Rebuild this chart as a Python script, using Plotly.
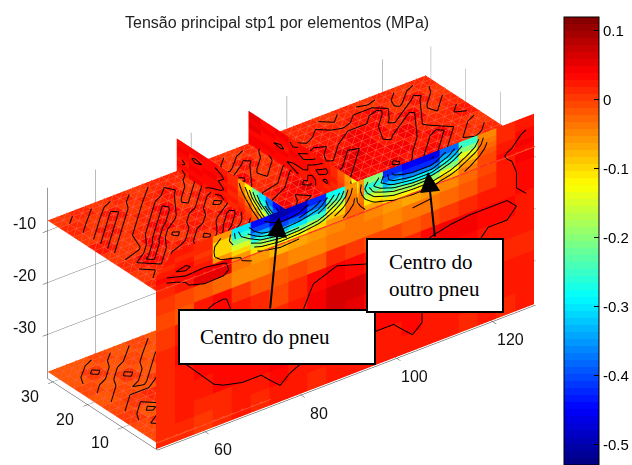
import numpy as np
import plotly.graph_objects as go

TITLE = "Tensão principal stp1 por elementos (MPa)"
CB_TICKS = [0.1, 0, -0.1, -0.2, -0.3, -0.4, -0.5]
CB_LABELS = ["0.1", "0", "-0.1", "-0.2", "-0.3", "-0.4", "-0.5"]
X_TICKS = [60, 80, 100, 120]
Y_TICKS = [10, 20, 30]
Z_TICKS = [-10, -20, -30]
CMIN, CMAX = -0.53, 0.12

X_RANGE = [50, 129]
Y_RANGE = [0, 31.5]
Z_RANGE = [-38.5, -1.7]

x_edges = np.linspace(50, 129, 21)
y_edges = [0, 4, 8, 12, 16, 20, 24, 28, 31.5]
z_edges = [-1.7, -3, -4, -5, -6, -7, -8, -10, -13, -16, -20, -24, -28, -32, -35, -38.5]
PLATE_TOP_Z = -8.0
PLATE_BOTTOM_Z = -37.2

# stress at y = 0 section, rows from top to bottom, in 0.01 MPa
wall_values = [
    [2, 2, 1, -6, -30, -44, -50, -48, -42, -28, -6, -20, -42, -45, -46, -38, -25, -5, 1, 2],
    [2, 1, 1, -10, -26, -40, -46, -44, -38, -24, -5, -26, -38, -42, -42, -33, -20, -4, 1, 2],
    [1, 2, 0, -10, -20, -34, -40, -38, -32, -18, -4, -22, -32, -36, -36, -27, -14, -3, 1, 3],
    [2, 3, 1, -10, -15, -26, -32, -30, -25, -13, -4, -16, -24, -28, -28, -20, -9, -2, 2, 3],
    [3, 2, 2, -6, -10, -18, -22, -21, -17, -9, -3, -11, -17, -19, -19, -13, -6, -1, 2, 4],
    [2, 3, 4, 4, -6, -11, -14, -13, -10, -6, -3, -7, -11, -12, -12, -8, -4, -1, 3, 3],
    [1, 2, 5, 5, -4, -6, -8, -7, -6, -5, -4, -5, -6, -7, -6, -5, -3, -1, 2, 4],
    [0, -1, -2, -3, -5, -5, -4, -5, -5, -4, -4, -4, -5, -4, -4, -3, -2, 0, 2, 3],
    [-1, -2, 2, 3, 0, -2, -2, -1, -2, 1, 0, -1, -1, -2, -1, 0, 1, 2, 2, 3],
    [0, 2, 4, 3, 2, 1, -1, 1, 3, 4, 3, 2, 2, 1, 3, 4, 4, 3, 3, 2],
    [1, 3, 3, 3, 2, 1, 1, 2, 4, 6, 6, 5, 2, 1, 2, 3, 3, 2, 2, 2],
    [1, 2, 3, 3, 3, 2, 2, 3, 5, 6, 5, 3, 2, 2, 2, 2, 2, 2, 1, 1],
    [1, 2, 2, 3, 3, 3, 4, 4, 4, 3, 3, 3, 3, 3, 2, 3, 2, 2, 2, 2],
    [1, 2, 1, 1, 2, 2, 3, 2, 2, 3, 2, 2, 2, 3, 2, 2, 2, 2, 2, 2],
    [1, 1, 0, 1, 2, 1, 2, 2, 1, 2, 2, 2, 2, 2, 2, 2, 1, 2, 1, 2],
]

# stress on the upper plate, rows from y = 0 to the back
top_values = [
    [1, 2, 3, 4, 2, 1, 2, 0, 3, 1, 3, 2, 2, 1, 0, 2, 1, 3, 1, 0],
    [0, 1, 4, 1, 3, 0, 3, 1, 2, 4, 1, 4, 3, 4, 2, 3, 1, 1, 2, 0],
    [1, 3, 1, 2, 0, 3, 1, 3, 4, 2, 3, 5, 4, 3, 5, 2, 3, 1, 0, 1],
    [0, 0, 3, 0, 2, 1, 3, 0, 2, 3, 5, 3, 5, 4, 3, 4, 2, 3, 1, 0],
    [2, 0, 1, 3, 1, 2, 0, 2, 1, 1, 3, 4, 2, 5, 4, 2, 4, 1, 1, 2],
    [0, 2, 0, 1, 3, 0, 2, 1, 3, 0, 1, 2, 3, 2, 4, 3, 1, 3, 0, 1],
    [1, 0, 2, 0, 1, 2, 0, 2, 0, 2, 0, 3, 1, 2, 1, 2, 3, 0, 2, 0],
    [0, 1, 0, 1, 0, 1, 1, 0, 1, 0, 1, 0, 1, 1, 0, 1, 0, 1, 0, 1],
]

# stress on the lower plate, rows from y = 0 to the back
bottom_values = [
    [-1, -1, 0, -1, 1, 0],
    [-1, 1, -1, 0, -1, 1],
    [0, -2, 0, -2, 0, -1],
    [-1, 0, 1, -1, -2, 0],
    [-2, -1, -2, 0, -1, -1],
    [-1, -2, 0, -2, 0, -2],
    [-2, 0, -2, -1, -2, -1],
    [-2, -2, -1, -2, -1, -2],
]
bottom_x_edges = x_edges[:7]

# stress on the two y-z sections above the upper plate
side_y = [0, 2, 4, 6, 8, 10, 12, 14, 17, 20, 24, 28, 31.5]
side_z = [-1.7, -3, -4, -5, -6, -7, -8]
SIDE_X_1, SIDE_X_2 = 77.0, 92.0
side_values_1 = [
    [-50, -44, -38, -30, -22, -12, -6, 1, 2, 3, 4, 3],
    [-46, -40, -34, -26, -18, -9, -4, 1, 3, 3, 2, 4],
    [-40, -33, -26, -19, -12, -6, -2, 2, 2, 4, 3, 3],
    [-32, -26, -20, -14, -8, -3, 0, 1, 3, 3, 4, 2],
    [-22, -17, -12, -8, -4, -1, 1, 2, 2, 3, 3, 3],
    [-14, -10, -7, -4, -2, 0, 2, 1, 3, 2, 4, 2],
]
side_values_2 = [
    [-14, -6, -2, 1, 2, 3, 2, 3, 2, 4, 3, 5],
    [-11, -5, -1, 1, 3, 2, 3, 2, 3, 3, 4, 4],
    [-8, -4, 0, 2, 2, 3, 2, 3, 4, 2, 3, 5],
    [-6, -3, 0, 1, 3, 2, 2, 3, 3, 4, 3, 3],
    [-4, -2, 1, 2, 1, 2, 3, 2, 2, 3, 4, 4],
    [-3, -1, 1, 1, 2, 2, 3, 2, 3, 3, 3, 4],
]

WALL_LEVELS = [-0.45, -0.40, -0.35, -0.30, -0.25, -0.20, -0.15, -0.10, -0.05, 0.025]
PLATE_LEVELS = [0.005, 0.015, 0.025, 0.045]


def jet(t):
    r = np.clip(min(4 * t - 1.5, -4 * t + 4.5), 0, 1)
    g = np.clip(min(4 * t - 0.5, -4 * t + 3.5), 0, 1)
    b = np.clip(min(4 * t + 0.5, -4 * t + 2.5), 0, 1)
    return f"rgb({int(r*255)},{int(g*255)},{int(b*255)})"


N = 64
JET64 = []
for n in range(N):
    c = jet((n + 0.5) / N)
    JET64 += [[n / N, c], [(n + 1) / N, c]]


def mesh(xv, yv, zv, vals, show=False):
    xv, yv, zv = np.asarray(xv, float), np.asarray(yv, float), np.asarray(zv, float)
    vals = np.asarray(vals, float) / 100
    nr, nc = xv.shape
    i, j, k, ints = [], [], [], []
    for r in range(nr - 1):
        for c in range(nc - 1):
            a = r * nc + c
            b = a + 1
            d = a + nc
            e = d + 1
            i += [a, a]
            j += [b, e]
            k += [e, d]
            ints += [vals[r, c], vals[r, c]]
    if show:
        kw = dict(
            showscale=True,
            colorbar=dict(
                x=564 / 632, xanchor="left", y=1 - 17 / 465, yanchor="top",
                lenmode="pixels", len=448, thicknessmode="pixels", thickness=35,
                xpad=0, ypad=0, outlinewidth=1, outlinecolor="black",
                tickmode="array", tickvals=CB_TICKS, ticktext=CB_LABELS,
                ticks="inside", ticklen=5, tickcolor="black",
                tickfont=dict(family="Liberation Sans", size=15, color="black"),
            ),
        )
    else:
        kw = dict(showscale=False)
    return go.Mesh3d(
        x=xv.ravel(), y=yv.ravel(), z=zv.ravel(), i=i, j=j, k=k,
        intensity=ints, intensitymode="cell", colorscale=JET64, cmin=CMIN, cmax=CMAX,
        flatshading=True, hoverinfo="skip",
        lighting=dict(ambient=1, diffuse=0, specular=0, roughness=1, fresnel=0),
        **kw,
    )


def contour_lines(uc, vc, vals, levels):
    vals = np.asarray(vals, float) / 100
    U, V = [], []
    for lev in levels:
        for r in range(len(vc) - 1):
            for c in range(len(uc) - 1):
                corners = [(uc[c], vc[r], vals[r, c]), (uc[c + 1], vc[r], vals[r, c + 1]),
                           (uc[c + 1], vc[r + 1], vals[r + 1, c + 1]), (uc[c], vc[r + 1], vals[r + 1, c])]
                pts = []
                for m in range(4):
                    p, q = corners[m], corners[(m + 1) % 4]
                    if (p[2] - lev) * (q[2] - lev) < 0:
                        t = (lev - p[2]) / (q[2] - p[2])
                        pts.append((p[0] + t * (q[0] - p[0]), p[1] + t * (q[1] - p[1])))
                for m in range(0, len(pts) - 1, 2):
                    U += [pts[m][0], pts[m + 1][0], None]
                    V += [pts[m][1], pts[m + 1][1], None]
    return U, V


def lattice(us, vs):
    U, V = [], []
    for r in range(len(vs) - 1):
        for c in range(len(us) - 1):
            U += [us[c], us[c + 1], None, us[c], us[c], None, us[c], us[c + 1], None]
            V += [vs[r], vs[r], None, vs[r], vs[r + 1], None, vs[r], vs[r + 1], None]
    return U, V


def halves(e):
    e = np.asarray(e, float)
    return np.sort(np.concatenate([e, (e[:-1] + e[1:]) / 2]))


def centers(e):
    e = np.asarray(e, float)
    return (e[:-1] + e[1:]) / 2


def same(u, value):
    return [None if a is None else value for a in u]


def line3d(x, y, z, color="black", width=2):
    return go.Scatter3d(x=x, y=y, z=z, mode="lines", line=dict(color=color, width=width),
                        hoverinfo="skip", showlegend=False)


LATTICE = "rgb(255,95,75)"
fig = go.Figure()

# y = 0 section
XX, ZZ = np.meshgrid(x_edges, z_edges)
fig.add_trace(mesh(XX, np.full_like(XX, 0.4), ZZ, wall_values, show=True))
# plates
XX, YY = np.meshgrid(x_edges, y_edges)
fig.add_trace(mesh(XX, YY, np.full_like(XX, PLATE_TOP_Z), top_values))
XX, YY = np.meshgrid(bottom_x_edges, y_edges)
fig.add_trace(mesh(XX, YY, np.full_like(XX, PLATE_BOTTOM_Z), bottom_values))
# y-z sections
for sx, sv in ((SIDE_X_1, side_values_1), (SIDE_X_2, side_values_2)):
    YY, ZZ = np.meshgrid(side_y, side_z)
    fig.add_trace(mesh(np.full_like(YY, sx), YY, ZZ, sv))

# faint mesh of the elements
u, v = lattice(halves(x_edges), halves(y_edges))
fig.add_trace(line3d(u, v, same(u, PLATE_TOP_Z + 0.1), LATTICE, 1))
u, v = lattice(halves(bottom_x_edges), halves(y_edges))
fig.add_trace(line3d(u, v, same(u, PLATE_BOTTOM_Z + 0.1), LATTICE, 1))

# contour lines
u, v = contour_lines(centers(x_edges), centers(z_edges), wall_values, WALL_LEVELS)
fig.add_trace(line3d(u, same(u, 0.05), v))
u, v = contour_lines(centers(x_edges), centers(y_edges), top_values, PLATE_LEVELS)
fig.add_trace(line3d(u, v, same(u, PLATE_TOP_Z + 0.25)))
u, v = contour_lines(centers(bottom_x_edges), centers(y_edges), bottom_values, [-0.005, -0.015])
fig.add_trace(line3d(u, v, same(u, PLATE_BOTTOM_Z + 0.25)))
for sx, sv in ((SIDE_X_1, side_values_1), (SIDE_X_2, side_values_2)):
    u, v = contour_lines(centers(side_y), centers(side_z), sv, WALL_LEVELS)
    fig.add_trace(line3d(same(u, sx - 0.2), u, v))

axfont = dict(family="Liberation Sans", size=16, color="#111111")


def axis(rng, vals):
    return dict(range=rng, autorange=False, tickmode="array", tickvals=vals, title=dict(text=""),
                showbackground=False, showgrid=True, gridcolor="#777777", gridwidth=1,
                showline=True, linecolor="#333333", linewidth=1, ticks="outside",
                ticklen=6, tickcolor="#333333", showticklabels=False, zeroline=False,
                showspikes=False, mirror=False)


def tick_label(x, y, z, text, dx, dy):
    return dict(x=x, y=y, z=z, text=text, showarrow=False, xshift=dx, yshift=dy,
                xanchor="center", yanchor="middle", font=axfont)


scene_labels = (
    [tick_label(v, Y_RANGE[0], Z_RANGE[0], str(v), 18, -18) for v in X_TICKS]
    + [tick_label(X_RANGE[0] + 0.1, v, Z_RANGE[0], str(v), -23, -15) for v in Y_TICKS]
    + [tick_label(X_RANGE[0] + 0.1, Y_RANGE[1] - 0.1, v, str(v), -24, 7) for v in Z_TICKS]
)

L = 1.0
S = 233.0
ZOOM = 2.05
SHIFT_X, SHIFT_UP = 24.5, 14.0
eye_dir = np.array([-0.527, -0.687, 0.5])
right = np.array([0.793, -0.609, 0.0])
up = np.array([0.304, 0.397, 0.866])
cam_c = (SHIFT_X * right + SHIFT_UP * up) / S
xr, yr, zr = 79 * 6.05, 31.5 * 5.75, 36.8 * 6.0
m = xr / ZOOM
eye = cam_c + eye_dir * L
serif = dict(family="Liberation Serif", size=21, color="black")
fig.update_layout(
    width=632, height=465, margin=dict(l=0, r=0, t=0, b=0, autoexpand=False), showlegend=False,
    paper_bgcolor="white",
    scene=dict(
        domain=dict(x=[0, 1], y=[0, 1]),
        xaxis=axis(X_RANGE, X_TICKS),
        yaxis=axis(Y_RANGE, Y_TICKS),
        zaxis=axis(Z_RANGE, Z_TICKS),
        annotations=scene_labels,
        aspectmode="manual",
        aspectratio=dict(x=xr / m, y=yr / m, z=zr / m),
        camera=dict(projection=dict(type="orthographic"),
                    up=dict(x=0, y=0, z=1),
                    center=dict(x=cam_c[0], y=cam_c[1], z=cam_c[2]),
                    eye=dict(x=eye[0], y=eye[1], z=eye[2])),
    ),
    annotations=[
        dict(text=TITLE, x=277 / 632, y=1 - 22 / 465, xref="paper", yref="paper", showarrow=False,
             xanchor="center", yanchor="middle",
             font=dict(family="Liberation Sans", size=16, color="#222222")),
        dict(text="&nbsp;", x=277 / 632, y=1 - 337 / 465, xref="paper", yref="paper",
             xanchor="center", yanchor="middle",
             showarrow=False, width=192, height=50, bgcolor="white", bordercolor="black", borderwidth=2,
             font=serif),
        dict(text="&nbsp;", x=434.5 / 632, y=1 - 275 / 465, xref="paper", yref="paper",
             xanchor="center", yanchor="middle",
             showarrow=False, width=132, height=69, bgcolor="white", bordercolor="black", borderwidth=2,
             font=serif),
        dict(text="Centro do pneu", x=198 / 632, y=1 - 337 / 465, xref="paper", yref="paper",
             xanchor="left", yanchor="middle", showarrow=False, font=serif),
        dict(text="Centro do<br>outro pneu", x=387 / 632, y=1 - 275 / 465, xref="paper", yref="paper",
             xanchor="left", yanchor="middle", align="left", showarrow=False, font=serif),
        dict(text="", x=279 / 632, y=1 - 217 / 465, xref="paper", yref="paper", showarrow=True,
             axref="pixel", ayref="pixel", ax=-9, ay=93,
             arrowhead=2, arrowsize=2, arrowwidth=2, arrowcolor="black"),
        dict(text="", x=428 / 632, y=1 - 172 / 465, xref="paper", yref="paper", showarrow=True,
             axref="pixel", ayref="pixel", ax=7, ay=66,
             arrowhead=2, arrowsize=2, arrowwidth=2, arrowcolor="black"),
    ],
)
fig.write_html("out.html", config={"displayModeBar": False},
               post_script="document.body.style.margin='0';")
